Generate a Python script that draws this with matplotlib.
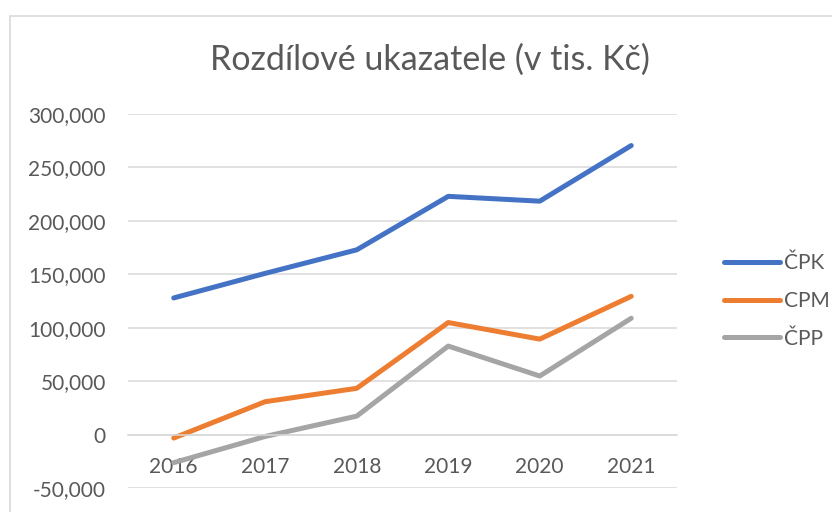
import matplotlib.pyplot as plt
from matplotlib.patches import Rectangle
from matplotlib.ticker import FuncFormatter

roky = ['2016', '2017', '2018', '2019', '2020', '2021']
cpk = [128000, 151000, 173000, 223000, 218500, 270500]
cpm = [-3000, 31000, 43500, 105000, 89500, 129500]
cpp = [-26000, -1500, 17500, 83000, 55000, 109000]
nazvy = ['ČPK', 'CPM', 'ČPP']
barvy = ['#4472C4', '#ED7D31', '#A5A5A5']

plt.rcParams['font.family'] = ['Lato', 'DejaVu Sans']
seda = '#595959'

fig = plt.figure(figsize=(8.32, 5.12), dpi=100)
ax = fig.add_axes([128/832, 1 - 488.3/512, (677 - 128)/832, (488.3 - 114)/512])

# okraj grafu (jen levy a horni kus je videt)
fig.add_artist(Rectangle((9.5/832, -0.2), 1.2, 1.2 - 15.5/512, transform=fig.transFigure,
                         fill=False, edgecolor='#d9d9d9', lw=1.2))

x = range(len(roky))
for serie, nazev, barva in zip([cpk, cpm, cpp], nazvy, barvy):
    ax.plot(x, serie, color=barva, lw=3.6, solid_capstyle='round', solid_joinstyle='round', label=nazev)

ax.set_xlim(-0.5, 5.5)
ax.set_ylim(-50000, 300000)
ax.set_yticks(range(-50000, 300001, 50000))
ax.yaxis.set_major_formatter(FuncFormatter(lambda v, p: f'{int(v):,}'))
ax.set_xticks(list(x))
ax.set_xticklabels(roky)
ax.grid(axis='y', color='#d9d9d9', lw=1.1)
ax.set_axisbelow(True)
for s in ['top', 'right', 'left']:
    ax.spines[s].set_visible(False)
ax.spines['bottom'].set_position(('data', 0))
ax.spines['bottom'].set_color('#d9d9d9')
ax.spines['bottom'].set_linewidth(1.1)
ax.tick_params(axis='both', length=0, labelsize=15, colors=seda)
ax.tick_params(axis='y', pad=16)
ax.tick_params(axis='x', pad=16)

fig.text(430/832, 1 - 60/512, 'Rozdílové ukazatele (v tis. Kč)', ha='center', va='center',
         fontsize=24.5, color=seda)

ax.legend(loc='center left', bbox_to_anchor=(705/832, 1 - 301/512), bbox_transform=fig.transFigure,
          frameon=False, fontsize=15, labelcolor=seda, handlelength=2.7, handletextpad=0.2,
          labelspacing=0.85)

fig.savefig('out.png', dpi=100)
